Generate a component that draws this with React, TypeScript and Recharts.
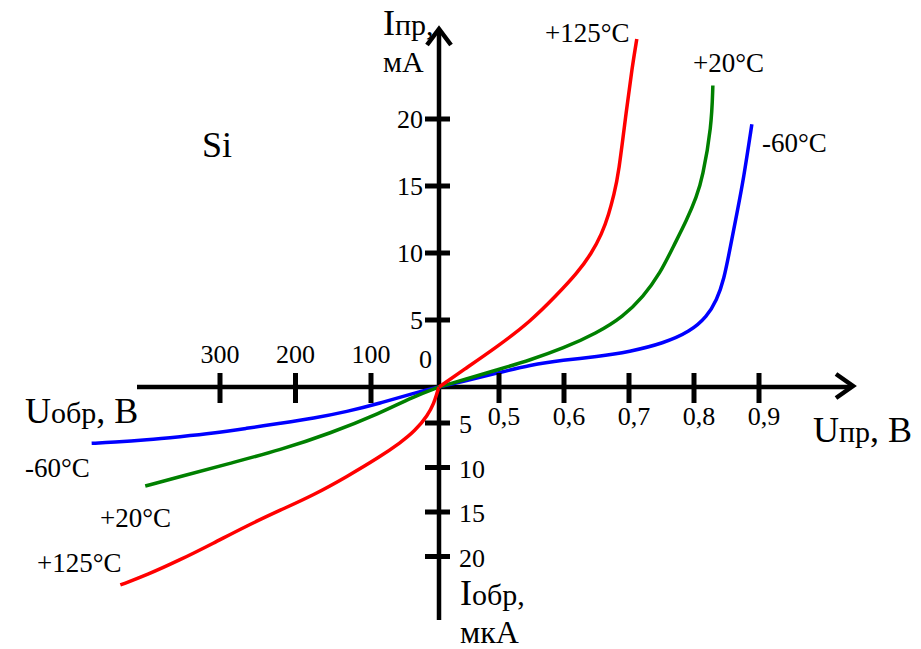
import { LineChart, Line, XAxis, YAxis, ReferenceLine, ReferenceDot } from 'recharts';

// Si diode I-V curves at three temperatures.
// Forward branch: U in V, I in mA. Reverse branch: U in V, I in uA.

const FWD_U_125 = [0, 0.2, 0.483, 0.548, 0.589, 0.62, 0.642, 0.658, 0.669, 0.677, 0.684, 0.696, 0.705, 0.712];
const FWD_I_125 = [0, 1.25, 2.99, 4.87, 6.87, 8.48, 9.95, 11.4, 12.9, 14.4, 15.9, 20.67, 23.9, 25.97];

const FWD_U_20 = [0, 0.2, 0.481, 0.548, 0.599, 0.65, 0.691, 0.722, 0.748, 0.768, 0.789, 0.804, 0.813, 0.827, 0.829];
const FWD_I_20 = [0, 0.52, 1.27, 2.01, 2.89, 4.01, 5.25, 6.74, 8.49, 10.47, 12.46, 14.2, 15.6, 19.4, 22.5];

const FWD_U_M60 = [0, 0.2, 0.481, 0.548, 0.599, 0.65, 0.701, 0.753, 0.794, 0.82, 0.835, 0.846, 0.856, 0.866, 0.876, 0.889];
const FWD_I_M60 = [0, 0.42, 1.02, 1.64, 2.01, 2.26, 2.63, 3.26, 4.13, 5.25, 6.49, 7.99, 10.47, 12.96, 15.45, 19.6];

const REV_U_125 = [0, 2.9, 7.4, 16.2, 35.3, 57.4, 86.8, 132, 176, 220, 265, 309, 353, 397, 432];
const REV_I_125 = [0, 0.83, 2.22, 3.89, 5.9, 7.25, 8.79, 11.03, 13.09, 14.78, 16.57, 18.52, 20.39, 22.08, 23.2];

const REV_U_20 = [0, 37.8, 86.8, 154, 220, 287, 353, 399];
const REV_I_20 = [0, 1.35, 3.65, 6.16, 8.03, 9.53, 11.03, 12.08];

const REV_U_M60 = [0, 37.8, 86.8, 132, 176, 220, 265, 309, 353, 397, 441, 470];
const REV_I_M60 = [0, 0.88, 2.26, 3.43, 4.35, 5.03, 5.6, 6.16, 6.54, 6.91, 7.17, 7.28];

const FWD_U_TICKS = [0.5, 0.6, 0.7, 0.8, 0.9];
const FWD_U_LABELS = ['0,5', '0,6', '0,7', '0,8', '0,9'];
const REV_U_TICKS = [100, 200, 300];
const FWD_I_TICKS = [5, 10, 15, 20];
const REV_I_TICKS = [5, 10, 15, 20];

const RED = '#ff0000';
const GREEN = '#008000';
const BLUE = '#0000ff';
const FONT = "'Liberation Serif', 'Times New Roman', serif";

// plot units = pixels measured from the origin; each quadrant has its own scale
// forward voltage axis is broken: 0..0.5 V squeezed, then 0.1 V per step
const fwdX = (u: number) => (u <= 0.5 ? u * 120 : 60 + (u - 0.5) * 650);
const fwdY = (i: number) => i * 13.4;
const revX = (u: number) => -(u <= 100 ? u * 0.68 : 68 + (u - 100) * 0.755);
const revY = (i: number) => -(i <= 5 ? i * 7.2 : 36 + (i - 5) * 8.9);

const toFwd = (us: number[], is: number[]) => us.map((u, k) => ({ x: fwdX(u), y: fwdY(is[k]) }));
const toRev = (us: number[], is: number[]) =>
  us.map((u, k) => ({ x: revX(u), y: revY(is[k]) })).sort((a, b) => a.x - b.x);

const X_DOMAIN = [-439, 482];
const Y_DOMAIN = [-262, 387];

type Txt = { x: number; y: number; size: number; parts: [string, number?][] };

const TEXTS: Txt[] = [
  { x: -56, y: 352, size: 36, parts: [['I'], ['пр,', 30]] },
  { x: -56, y: 315, size: 30, parts: [['мА']] },
  { x: 374, y: -55, size: 36, parts: [['U'], ['пр', 30], [', B']] },
  { x: -414, y: -36, size: 36, parts: [['U'], ['обр', 30], [', B']] },
  { x: 21, y: -218, size: 36, parts: [['I'], ['обр,', 30]] },
  { x: 21, y: -256, size: 32, parts: [['мкА']] },
  { x: -237, y: 230, size: 36, parts: [['Si']] },
  { x: 106, y: 345, size: 27, parts: [['+125°C']] },
  { x: 254, y: 315, size: 27, parts: [['+20°C']] },
  { x: 323, y: 235, size: 27, parts: [['-60°C']] },
  { x: -414, y: -90, size: 27, parts: [['-60°C']] },
  { x: -339, y: -140, size: 27, parts: [['+20°C']] },
  { x: -402, y: -185, size: 27, parts: [['+125°C']] },
];

const SERIES = [
  { key: 'rm60', data: toRev(REV_U_M60, REV_I_M60), color: BLUE },
  { key: 'r20', data: toRev(REV_U_20, REV_I_20), color: GREEN },
  { key: 'r125', data: toRev(REV_U_125, REV_I_125), color: RED },
  { key: 'fm60', data: toFwd(FWD_U_M60, FWD_I_M60), color: BLUE },
  { key: 'f20', data: toFwd(FWD_U_20, FWD_I_20), color: GREEN },
  { key: 'f125', data: toFwd(FWD_U_125, FWD_I_125), color: RED },
];

export default function App() {
  const axisStroke = { stroke: '#000', strokeWidth: 4.5 };

  return (
    <div style={{ position: 'absolute', left: 0, top: 0, width: 921, height: 649, background: '#fff' }}>
      <LineChart width={921} height={649} margin={{ top: 0, right: 0, bottom: 0, left: 0 }}>
        <XAxis type="number" dataKey="x" domain={X_DOMAIN} hide allowDataOverflow />
        <YAxis type="number" dataKey="y" domain={Y_DOMAIN} hide allowDataOverflow />

        {/* axes */}
        <ReferenceLine segment={[{ x: -302, y: 0 }, { x: 412, y: 0 }]} {...axisStroke} />
        <ReferenceLine segment={[{ x: 0, y: 356 }, { x: 0, y: -233 }]} {...axisStroke} />
        <ReferenceDot
          x={414}
          y={1}
          shape={(p: any) => (
            <polyline
              points={`${p.cx - 17},${p.cy - 12} ${p.cx},${p.cy} ${p.cx - 17},${p.cy + 12}`}
              fill="none"
              stroke="#000"
              strokeWidth={4.5}
            />
          )}
        />
        <ReferenceDot
          x={0}
          y={358}
          shape={(p: any) => (
            <polyline
              points={`${p.cx - 12},${p.cy + 16} ${p.cx},${p.cy} ${p.cx + 12},${p.cy + 16}`}
              fill="none"
              stroke="#000"
              strokeWidth={4.5}
            />
          )}
        />

        {/* ticks: forward voltage */}
        {FWD_U_TICKS.map((t, k) => (
          <ReferenceDot
            key={`fu${t}`}
            x={fwdX(t)}
            y={0}
            shape={(p: any) => (
              <g>
                <line x1={p.cx} x2={p.cx} y1={p.cy - 14} y2={p.cy + 16} stroke="#000" strokeWidth={5} />
                <text x={p.cx + 5} y={p.cy + 38} textAnchor="middle" fontFamily={FONT} fontSize={26}>
                  {FWD_U_LABELS[k]}
                </text>
              </g>
            )}
          />
        ))}

        {/* ticks: reverse voltage */}
        {REV_U_TICKS.map((t) => (
          <ReferenceDot
            key={`ru${t}`}
            x={revX(t)}
            y={0}
            shape={(p: any) => (
              <g>
                <line x1={p.cx} x2={p.cx} y1={p.cy - 14} y2={p.cy + 16} stroke="#000" strokeWidth={5} />
                <text x={p.cx} y={p.cy - 24} textAnchor="middle" fontFamily={FONT} fontSize={26}>
                  {t}
                </text>
              </g>
            )}
          />
        ))}

        {/* ticks: forward current */}
        {FWD_I_TICKS.map((t) => (
          <ReferenceDot
            key={`fi${t}`}
            x={0}
            y={fwdY(t)}
            shape={(p: any) => (
              <g>
                <line x1={p.cx - 14} x2={p.cx + 11} y1={p.cy} y2={p.cy} stroke="#000" strokeWidth={5} />
                <text x={p.cx - 16} y={p.cy + 9} textAnchor="end" fontFamily={FONT} fontSize={26}>
                  {t}
                </text>
              </g>
            )}
          />
        ))}

        {/* ticks: reverse current */}
        {REV_I_TICKS.map((t) => (
          <ReferenceDot
            key={`ri${t}`}
            x={0}
            y={revY(t)}
            shape={(p: any) => (
              <g>
                <line x1={p.cx - 14} x2={p.cx + 11} y1={p.cy} y2={p.cy} stroke="#000" strokeWidth={5} />
                <text x={p.cx + 20} y={p.cy + 10} fontFamily={FONT} fontSize={26}>
                  {t}
                </text>
              </g>
            )}
          />
        ))}

        {/* origin label */}
        <ReferenceDot
          x={0}
          y={0}
          shape={(p: any) => (
            <text x={p.cx - 20} y={p.cy - 19} fontFamily={FONT} fontSize={26}>
              0
            </text>
          )}
        />

        {/* curves */}
        {SERIES.map((s) => (
          <Line
            key={s.key}
            data={s.data}
            dataKey="y"
            type="basis"
            stroke={s.color}
            strokeWidth={3.5}
            dot={false}
            activeDot={false}
            legendType="none"
            isAnimationActive={false}
          />
        ))}

        {/* text labels */}
        {TEXTS.map((t, k) => (
          <ReferenceDot
            key={`t${k}`}
            x={t.x}
            y={t.y}
            shape={(p: any) => (
              <text x={p.cx} y={p.cy} fontFamily={FONT} fontSize={t.size} fill="#000">
                {t.parts.map(([s, sz], j) => (
                  <tspan key={j} fontSize={sz || t.size}>
                    {s}
                  </tspan>
                ))}
              </text>
            )}
          />
        ))}
      </LineChart>
    </div>
  );
}
